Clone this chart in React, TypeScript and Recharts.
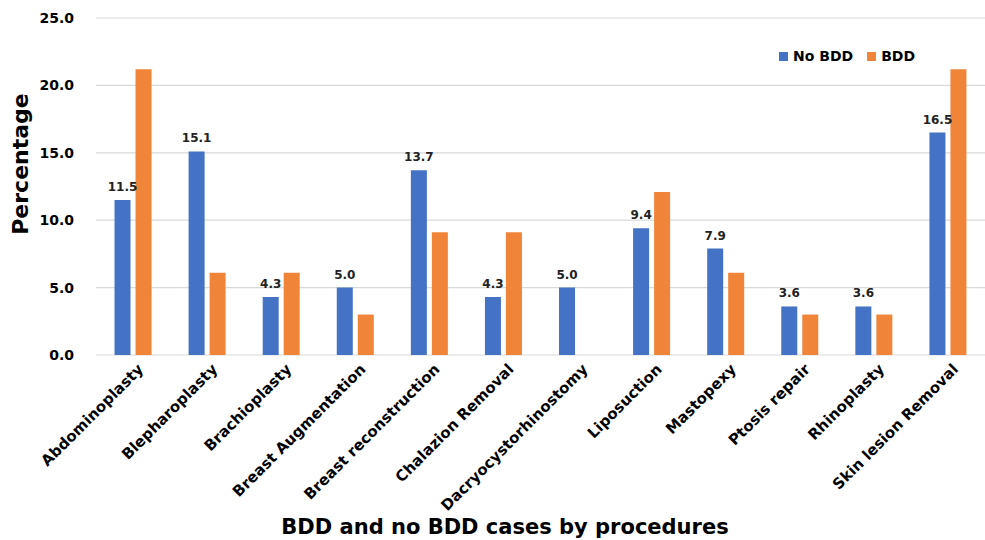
import React from "react";
import {
  BarChart,
  Bar,
  XAxis,
  YAxis,
  CartesianGrid,
  LabelList,
  Label,
} from "recharts";

const procedures = [
  "Abdominoplasty",
  "Blepharoplasty",
  "Brachioplasty",
  "Breast Augmentation",
  "Breast reconstruction",
  "Chalazion Removal",
  "Dacryocystorhinostomy",
  "Liposuction",
  "Mastopexy",
  "Ptosis repair",
  "Rhinoplasty",
  "Skin lesion Removal",
];
const noBdd = [11.5, 15.1, 4.3, 5.0, 13.7, 4.3, 5.0, 9.4, 7.9, 3.6, 3.6, 16.5];
const bdd = [21.2, 6.1, 6.1, 3.0, 9.1, 9.1, 0, 12.1, 6.1, 3.0, 3.0, 21.2];
const yTicks = [0, 5, 10, 15, 20, 25];

const seriesNames = ["No BDD", "BDD"];
const seriesColors = ["#4472C4", "#F08439"];

const data = procedures.map((name, i) => ({
  name,
  noBdd: noBdd[i],
  bdd: bdd[i],
}));

const FONT = "'DejaVu Sans', Verdana, sans-serif";

const XTick = (props: any) => {
  const { x, y, payload } = props;
  return (
    <g transform={`translate(${x + 8},${y + 4})`}>
      <text
        transform="rotate(-45)"
        textAnchor="end"
        dominantBaseline="middle"
        fontFamily={FONT}
        fontWeight="bold"
        fontSize={15}
        fill="#000"
      >
        {payload.value}
      </text>
    </g>
  );
};

const LegendBox = () => (
  <div
    style={{
      position: "absolute",
      left: 779,
      top: 48,
      display: "flex",
      gap: 14,
      fontFamily: FONT,
      fontWeight: "bold",
      fontSize: 14,
      color: "#000",
    }}
  >
    {seriesNames.map((n, i) => (
      <span key={n} style={{ display: "flex", alignItems: "center" }}>
        <span
          style={{
            width: 9,
            height: 9,
            background: seriesColors[i],
            marginRight: 5,
            display: "inline-block",
          }}
        />
        {n}
      </span>
    ))}
  </div>
);

export default function App() {
  return (
    <div style={{ position: "absolute", left: 0, top: 0, width: 985, height: 540, background: "#fff" }}>
      <BarChart
        width={985}
        height={540}
        data={data}
        margin={{ top: 18, right: 0, left: 0, bottom: 0 }}
        barCategoryGap="25%"
        barGap={5}
      >
        <CartesianGrid vertical={false} stroke="#d9d9d9" strokeWidth={1.2} />
        <XAxis
          dataKey="name"
          interval={0}
          tick={<XTick />}
          tickLine={false}
          axisLine={false}
          height={185}
        >
          <Label
            content={() => (
              <text
                x={505}
                y={534}
                textAnchor="middle"
                fontFamily={FONT}
                fontWeight="bold"
                fontSize={21}
                fill="#000"
              >
                BDD and no BDD cases by procedures
              </text>
            )}
          />
        </XAxis>
        <YAxis
          domain={[0, 25]}
          ticks={yTicks}
          tickFormatter={(v: number) => v.toFixed(1)}
          width={96}
          tickLine={false}
          axisLine={false}
          tickMargin={16}
          tick={{ fontFamily: FONT, fontWeight: "bold", fontSize: 14, fill: "#000" }}
        >
          <Label
            content={() => (
              <text
                x={28}
                y={164}
                transform="rotate(-90 28 164)"
                textAnchor="middle"
                fontFamily={FONT}
                fontWeight="bold"
                fontSize={22}
                fill="#000"
              >
                Percentage
              </text>
            )}
          />
        </YAxis>
        <Bar dataKey="noBdd" name="No BDD" fill={seriesColors[0]} isAnimationActive={false}>
          <LabelList
            dataKey="noBdd"
            position="top"
            offset={9}
            formatter={(v: number) => v.toFixed(1)}
            style={{ fontFamily: FONT, fontWeight: "bold", fontSize: 12, fill: "#222" }}
          />
        </Bar>
        <Bar dataKey="bdd" name="BDD" fill={seriesColors[1]} isAnimationActive={false} />
      </BarChart>
      <LegendBox />
    </div>
  );
}
